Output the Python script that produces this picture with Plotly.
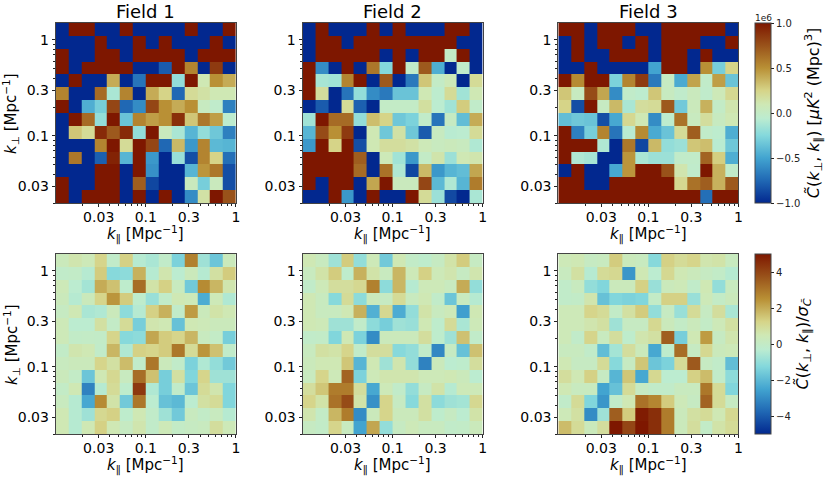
import plotly.graph_objects as go

# k bin edges, Mpc^-1
kpar_edges = [0.01, 0.01389, 0.01931, 0.02683, 0.03728, 0.05179, 0.07197, 0.1,
              0.13895, 0.19307, 0.26827, 0.37276, 0.51795, 0.71969, 1.0]
kperp_edges = [0.02, 0.02723, 0.03706, 0.05045, 0.06868, 0.09349, 0.12727, 0.17324,
               0.23582, 0.32102, 0.43700, 0.59487, 0.80978, 1.10233, 1.5]

field_names = ["Field 1", "Field 2", "Field 3"]

# power in units of 1e6, rows listed top to bottom as in the picture
power1 = [
    [-1, 1, 1, -1, -1, 1, -1, -1, -1, -1, 1, -1, -1, 1],
    [-1, -1, -1, 1, -1, -1, 1, -1, 1, -1, -1, -1, 1, -1],
    [1, -1, -1, 1, 1, -1, 1, 1, 1, 1, -1, 1, 1, 1],
    [1, -1, 1, 1, 1, 1, -1, -1, -.8, 1, .55, -1, .85, -1],
    [-1, 1, -1, -1, .4, -1, -.7, 1, 1, -.2, 1, .1, .5, .4],
    [.55, -1, -1, .65, -.12, .55, -1, .4, .25, -.75, .2, .15, .1, .1],
    [1, -1, -.45, -.3, .8, -.75, -.6, .8, .5, .4, .5, .03, -.03, -.65],
    [-1, 1, .65, -.2, 1, -.35, .55, .45, .5, .9, .3, .6, .45, -.05],
    [-1, .3, .2, .92, .72, .92, -.2, 1, .05, -.12, -.42, -.2, -.33, -.65],
    [-1, -1, -1, .55, 1, .2, 1, .8, -.75, .35, -.55, .55, -.4, -.42],
    [-1, .6, -1, -.78, .95, -.42, 1, -.55, -1, -.18, -.85, .55, .25, -.72],
    [-1, -1, -1, 1, 1, -1, 1, -.58, -1, -1, -.42, .48, .6, -.85],
    [1, -1, -1, 1, 1, -1, .7, -.88, -1, -1, .05, -.3, .05, -.85],
    [1, -1, 1, 1, 1, -1, 1, -1, 1, -1, -.6, .15, 1, .75],
]
power2 = [
    [-1, 1, -1, -1, -1, 1, -1, 1, -1, -1, -1, 1, 1, -1],
    [-1, 1, 1, -1, 1, 1, 1, 1, 1, 1, 1, 1, -1, -1],
    [-1, 1, 1, 1, 1, 1, -1, 1, -1, 1, 1, 0, 1, -1],
    [1, -.6, -1, 1, -1, .6, -.25, 1, -.02, .72, -.45, -1, -.03, -1],
    [1, -.13, -.15, .55, 1, -1, .72, -1, -.68, .3, 0, .08, -1, .2],
    [1, .18, -1, -.7, -.2, -.6, -.68, -.35, -.35, .1, -.05, .2, -.15, .1],
    [-1, -.8, -1, .2, -.78, -1, 0, 0, 0, .17, -.06, -.15, .28, -.02],
    [-.15, 1, .65, .65, -.2, .33, .25, -.33, -.28, -.02, -.7, .02, -.38, .4],
    [-.42, .78, .5, .85, -1, .1, -.33, .15, -.33, -.8, .03, -.07, -.06, .2],
    [-.55, 1, .25, 1, -.85, .1, .18, .18, .15, .08, .04, .06, .04, -.1],
    [1, 1, 1, 1, .7, -1, .08, -.15, -.55, 0, .13, -.17, .1, .12],
    [1, 1, 1, 1, .65, -1, .62, -.1, -.88, .35, -.55, -.42, -.38, .42],
    [1, -1, 1, 1, -1, .42, 1, .05, .05, .8, -.4, -.1, -.42, .58],
    [-1, -1, 1, -.55, -1, 1, -1, -1, 1, .2, -.17, -.87, -1, -.12],
]
power3 = [
    [1, 1, -1, 1, 1, 1, -1, -1, 1, 1, 1, 1, 1, -1],
    [-1, 1, -1, 1, 1, -1, 1, -1, 1, 1, 1, -1, -1, 1],
    [-1, 1, -1, -1, 1, 1, 1, -1, 1, 1, -1, 1, -1, -1],
    [-1, -1, 1, -1, -1, -1, -1, -.5, 1, 1, -1, .5, -.3, .25],
    [1, .52, 1, 1, -.28, .55, .85, -.68, .02, -.47, .43, -.02, .45, -.35],
    [.3, .03, .78, .42, -.6, -.02, -.05, .3, .03, -.03, .05, -.03, .08, .22],
    [.25, -.85, 1, .02, .35, -.12, .18, .2, .72, -.32, .06, .38, 0, .12],
    [-.38, -.33, -.35, -.85, -.48, .22, .1, -.6, -.05, .62, .04, .18, .03, .1],
    [1, -.65, -.3, .55, -.7, -.07, .52, -.47, -.35, .2, .7, -.02, -.05, -.45],
    [1, 1, 1, -.1, -1, .6, -.88, .35, -.2, -.17, .3, .33, -.07, -.33],
    [1, -.1, -.13, -1, -1, .48, -.12, -.17, -.17, -.02, -.02, .68, .27, -.45],
    [-1, 1, -1, -1, -.48, .48, 1, 1, .75, .12, -.03, 1, .38, -.02],
    [1, 1, -1, -1, 1, 1, 1, 1, 1, .22, .62, .7, .38, .72],
    [1, 1, 1, 1, 1, 1, 1, 1, 1, 1, 1, -.72, 1, 1],
]

# significance, rows top to bottom
signif1 = [
    [.3, .6, .4, 1.2, -.1, 1.3, -.4, -.6, -.1, -1.4, 2.8, -.8, -1.7, .3],
    [-.1, -.05, -.4, 1.4, -1.2, -1.1, 1.9, -.4, .6, -.3, .3, -.4, .8, 1.4],
    [.4, -.3, -.7, 2.0, 1.6, -.2, 3.2, .7, 1.3, .2, -1.6, 2.6, 1.8, .6],
    [.3, -.4, .3, 1.2, 2.4, 1.4, -.2, -.9, -.1, .5, .4, -2.3, .4, -.5],
    [.1, .5, -.6, -.5, .3, -1.1, -.4, 1.3, 1.9, -.1, 2.3, .3, .7, .5],
    [.4, -.3, -.3, .8, 0, 1.0, -1.5, .6, .5, -1.8, .5, .4, .3, .3],
    [.4, -.05, 0, -.05, 1.2, -1.2, -1.1, 2.1, 1.4, 1.2, 1.8, .2, 0, -1.5],
    [-.05, .6, .5, -.1, 1.8, -.5, 1.3, 1.2, 1.4, 3.0, 1.0, 2.4, 1.6, -.1],
    [.2, .3, .3, 1.2, .8, 1.7, -.1, 3.0, .3, -.1, -1.4, -.5, -1, -1.6],
    [.3, 0, -1.7, .5, 1.1, .2, 3.2, 1.6, -1.5, .8, -1.3, 1.2, -.8, -.8],
    [0, .5, -3.2, -.4, 1, -.2, 4.3, -.5, -1.5, -.1, -1.7, 1, .6, -1.3],
    [.2, -.4, -2.4, 2.6, .7, -1.6, 3, -.3, -1.8, -2.0, -.3, .8, 1, -1.3],
    [.5, -.4, -.8, 1.1, 1.3, -.2, .5, -.1, -.8, -1.6, .2, -.05, .2, -.4],
    [.5, -.4, .5, 1.3, .5, .1, .6, -.1, .4, 0, .1, .2, .9, .4],
]
signif2 = [
    [.5, .2, -.8, 1.4, -1, .4, -1.6, .5, -.05, -.2, .1, .7, 1.4, .1],
    [.2, .7, 1.4, -.2, 1.9, .7, .2, 1.8, .4, 1.3, .4, .6, .1, .6],
    [-.1, .4, .9, .9, 1.1, 2.8, -1.1, 1.8, -.4, .4, .4, .2, 2.0, -1],
    [.5, .2, -1.2, 1.0, -1.1, .3, .1, 1.0, .2, .5, -.1, -1.7, .2, -.4],
    [.5, .2, .2, .5, 1.9, -2.2, 1.1, -2.3, -1, .7, .2, .4, -2.6, .5],
    [.5, .4, -.8, -.8, -.1, -1.1, -1.5, -.8, -.9, .5, -.2, 1, -.6, .4],
    [-.1, -.05, -1.3, .5, -1.4, -3, .3, .3, .3, .9, -.2, -.8, 1.6, -.1],
    [.2, .8, .7, 1.2, -.1, .9, .9, -1.2, -1, -.1, -3.1, .1, -1.8, 1.6],
    [.3, .5, .5, 1.5, -2.1, .5, -.8, .6, -1, -3.2, .3, -.3, -.2, .9],
    [.2, 1.2, .4, 3.4, -1.4, .4, .6, .6, .6, .4, .4, .5, .3, -.3],
    [.9, 1.5, 2.9, 2.9, .9, -2.4, .4, -.1, -1, .1, .7, -.4, .4, .4],
    [1.2, .7, 3.1, 3.9, .7, -2.9, 1.2, .1, -1.2, .8, -1.1, -.8, -.7, 1.1],
    [.6, -.02, 1.8, 2.9, -3, .3, 1.2, .3, .3, .8, -.2, .1, -.3, .7],
    [.1, -.05, 1.2, .2, -2.5, 2.1, -1, .1, .4, .2, .2, -.1, -.05, .3],
]
signif3 = [
    [.4, .5, .1, .2, 1.4, .3, .2, -1.2, 1.3, 1.0, 1.2, .6, .7, .2],
    [.2, .8, -.4, 1.0, 1.1, -2.8, .5, -.3, 1.1, .5, .3, .1, -.05, -.4],
    [-.1, .2, -1, -1.3, .3, .3, 1.3, -.9, .3, .4, -.1, .5, -1, .2],
    [-.1, -.05, .6, -1.8, -1.3, -1.4, -1.3, 0, 1.3, 1.3, -.9, .4, 0, .3],
    [.4, .4, 1.2, 1.0, -.05, .8, 1.4, -1, .1, -.9, 1, .1, .9, -.6],
    [.4, .4, .6, .8, -.8, .1, .1, 1.1, .3, 0, .3, 0, .4, .8],
    [.4, -.1, 1.2, .2, .9, -.2, .6, .8, 3.5, -1.5, .5, 2.3, .1, .6],
    [.2, .2, -.1, -1.9, -.7, .9, .3, -2.4, -.2, 3.2, .1, 1.1, .3, .4],
    [.5, .1, .1, 1, -1.2, .1, 1.5, -1.7, -1.4, 1, 3.6, .1, -.1, -1.9],
    [.9, .5, 1.3, .1, -2.1, 1.5, -2.4, 1.1, -.3, -.3, 1.3, 1.7, -.1, -1.1],
    [.5, .2, .2, -2.5, -1.8, 1, .1, -.1, -.1, .2, .2, 3, 1, -1.3],
    [-.1, 1, -1.3, -2.8, -.1, .5, 3.1, 2.7, 1.4, .4, .1, 3.4, 1, .1],
    [.4, .8, -3, -.8, 3.5, 1.4, 4.9, 4.5, 2.9, .3, .8, 1, .5, 1.1],
    [1.7, 1, .3, .9, 5, 4, 5, 4.5, 2.9, .3, .9, -.05, .7, 1],
]

k_ticks = [0.03, 0.1, 0.3, 1]
k_ticktext = ["0.03", "0.1", "0.3", "1"]
k_minor = [0.02, 0.04, 0.05, 0.06, 0.07, 0.08, 0.09, 0.2, 0.4, 0.5, 0.6, 0.7, 0.8, 0.9]

# blue through pale green to brown
cmap = [
    [0.0, "#02288f"], [0.125, "#2068b4"], [0.25, "#42a4d0"], [0.375, "#84d8dc"],
    [0.47, "#bcecd0"], [0.55, "#cfe8b4"], [0.625, "#d6d488"], [0.75, "#b99035"],
    [0.875, "#99521a"], [1.0, "#7e1700"],
]

W, H = 831, 481
FONT = "DejaVu Sans"
col_px = [(56, 237), (304, 485), (561, 742)]
row_px = [(23, 203), (254, 434)]

fig = go.Figure()

grids = [[power1, power2, power3], [signif1, signif2, signif3]]
idx = 0
for r, row in enumerate(grids):
    for c, z in enumerate(row):
        idx += 1
        suffix = "" if idx == 1 else str(idx)
        fig.add_trace(go.Heatmap(z=z[::-1], x=kpar_edges, y=kperp_edges,
                                 coloraxis="coloraxis" if r == 0 else "coloraxis2",
                                 xaxis="x" + suffix, yaxis="y" + suffix))
        ax = dict(type="log", showgrid=False, zeroline=False, showline=True, mirror=True,
                  linecolor="#444", linewidth=1, ticks="outside", ticklen=3, tickcolor="#222",
                  tickfont=dict(size=14, color="black"),
                  tickvals=k_ticks, ticktext=k_ticktext)
        minor = dict(ticks="outside", ticklen=2, tickcolor="#222", tickvals=k_minor, showgrid=False)
        fig.update_layout({
            "xaxis" + suffix: dict(ax, range=[-2, 0], minor=minor, anchor="y" + suffix,
                                   ticklabelstandoff=-2,
                                   domain=[col_px[c][0] / W, col_px[c][1] / W]),
            "yaxis" + suffix: dict(ax, range=[-1.69897, 0.17609], minor=minor, anchor="x" + suffix,
                                   domain=[1 - row_px[r][1] / H, 1 - row_px[r][0] / H]),
        })
        # axis titles sit closer to the ticks than plotly's own placement allows
        fig.add_annotation(text="<i>k</i><sub>∥</sub> [Mpc<sup>−1</sup>]", xref="paper", yref="paper",
                           showarrow=False, xanchor="center", yanchor="middle",
                           x=sum(col_px[c]) / 2 / W, y=1 - (row_px[r][1] + 31) / H,
                           font=dict(size=15, color="black"))
        if c == 0:
            fig.add_annotation(text="<i>k</i><sub>⊥</sub> [Mpc<sup>−1</sup>]", xref="paper", yref="paper",
                               showarrow=False, textangle=-90, xanchor="center", yanchor="middle",
                               x=11 / W, y=1 - sum(row_px[r]) / 2 / H,
                               font=dict(size=15, color="black"))

for c, name in enumerate(field_names):
    fig.add_annotation(text=name, xref="paper", yref="paper", showarrow=False,
                       xanchor="center", yanchor="middle",
                       x=sum(col_px[c]) / 2 / W, y=1 - 11 / H, font=dict(size=18, color="black"))

fig.add_annotation(text="1e6", xref="paper", yref="paper", showarrow=False,
                   xanchor="center", yanchor="middle",
                   x=767 / W, y=1 - 18 / H, font=dict(size=9, color="#222"))

def colorbar(top, dtick, fmt, title):
    return dict(x=759 / W, xanchor="left", xpad=0, ypad=0, thickness=16,
                len=180 / H, lenmode="fraction", y=1 - top / H, yanchor="top",
                dtick=dtick, tickformat=fmt, ticks="outside", ticklen=3, tickcolor="#222",
                tickfont=dict(size=10, color="#222"), outlinecolor="#444", outlinewidth=1,
                title=dict(text=title, side="right", font=dict(size=16, color="black")))

fig.update_layout(
    width=W, height=H, margin=dict(l=0, r=0, t=0, b=0),
    paper_bgcolor="white", plot_bgcolor="white", font=dict(family=FONT, color="black"),
    coloraxis=dict(colorscale=cmap, cmin=-1, cmax=1,
                   colorbar=colorbar(23, 0.5, ".1f",
                                     "<i>C̃</i>(<i>k</i><sub>⊥</sub>, <i>k</i><sub>∥</sub>) [<i>μK</i><sup>2</sup> (Mpc)<sup>3</sup>]")),
    coloraxis2=dict(colorscale=cmap, cmin=-5, cmax=5,
                    colorbar=colorbar(254, 2, "d",
                                      "<i>C̃</i>(<i>k</i><sub>⊥</sub>, <i>k</i><sub>∥</sub>)/<i>σ</i><sub><i>C̃</i></sub>")),
)

# the page's default body margin would push the figure 8px in
fig.write_html("out.html", config={"displayModeBar": False},
               post_script="document.body.style.margin='0';")
